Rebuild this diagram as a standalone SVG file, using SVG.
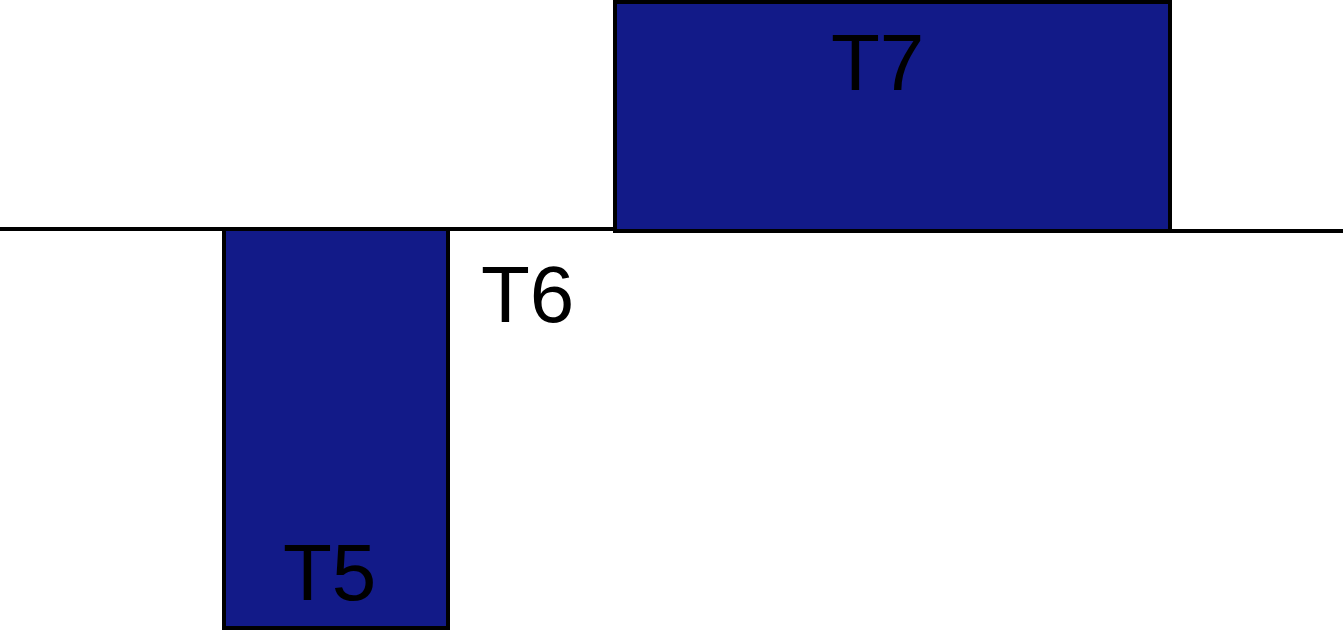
<svg xmlns="http://www.w3.org/2000/svg" width="1343" height="631" viewBox="0 0 1343 631">
<style>
.blk{fill:#121a88;stroke:#000;stroke-width:4}
.ln{stroke:#000;stroke-width:4;fill:none}
.lbl{font-family:"Liberation Sans",Arial,sans-serif;font-size:80px;fill:#000}
</style>
<rect width="1343" height="631" fill="#fff"/>
<g id="connectors">
<path class="ln" d="M0 229 H224 M448 229 H615 M1170 231 H1343"/>
</g>
<g id="T5">
<rect class="blk" x="224" y="229" width="224" height="399"/>
<text class="lbl" x="283" y="600">T5</text>
</g>
<g id="T6">
<text class="lbl" x="481" y="322">T6</text>
</g>
<g id="T7">
<rect class="blk" x="615" y="2" width="555" height="229"/>
<text class="lbl" x="831" y="90">T7</text>
</g>
</svg>
